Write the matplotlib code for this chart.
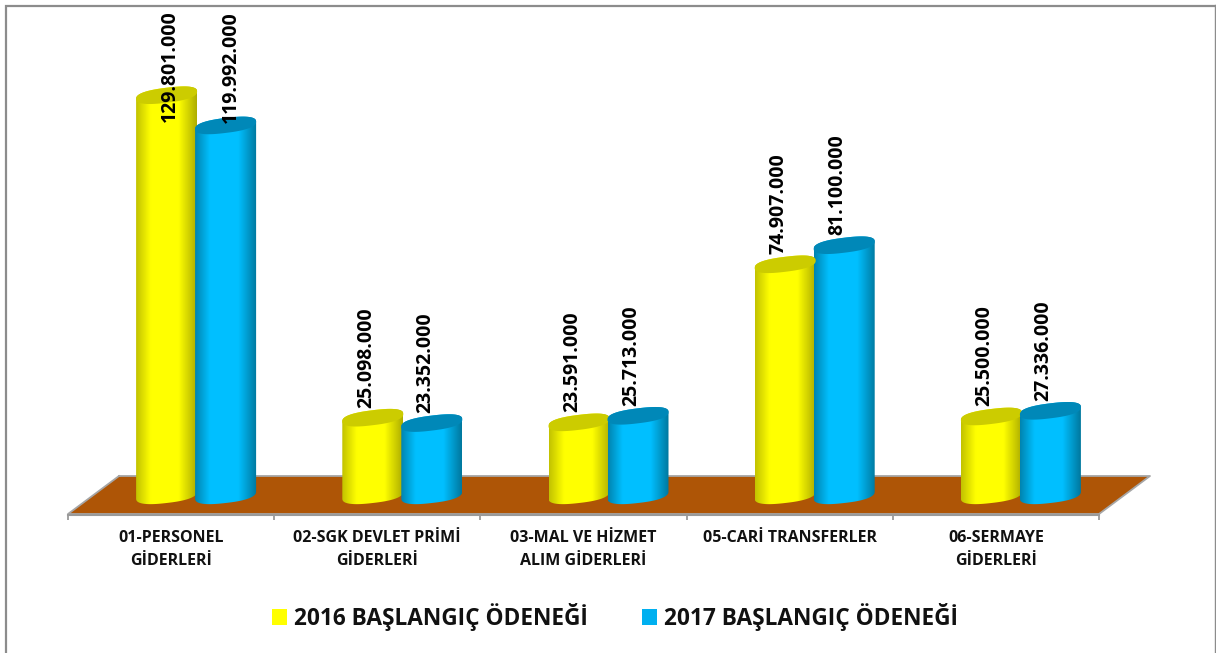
import numpy as np
import matplotlib
matplotlib.use("Agg")
import matplotlib.pyplot as plt
from matplotlib.patches import Patch, PathPatch, Polygon
from matplotlib.path import Path

categories = ["01-PERSONEL\nGİDERLERİ", "02-SGK DEVLET PRİMİ\nGİDERLERİ", "03-MAL VE HİZMET\nALIM GİDERLERİ",
              "05-CARİ TRANSFERLER", "06-SERMAYE\nGİDERLERİ"]
values_2016 = [129801000, 25098000, 23591000, 74907000, 25500000]
values_2017 = [119992000, 23352000, 25713000, 81100000, 27336000]
series_names = ["2016 BAŞLANGIÇ ÖDENEĞİ", "2017 BAŞLANGIÇ ÖDENEĞİ"]

W, H = 1216, 653
CAT_W = 206.2       # px per category
X0 = 68             # px of first tick
Y0 = 495            # px of value zero
VP = 1 / 3.08e-6    # value per px

plt.rcParams['font.family'] = ['Open Sans', 'DejaVu Sans']

fig = plt.figure(figsize=(W / 100, H / 100), dpi=100, facecolor='white')

# pixel layer for frame and floor
bg = fig.add_axes([0, 0, 1, 1], zorder=0)
bg.set_xlim(0, W)
bg.set_ylim(H, 0)
bg.axis('off')
bg.plot([5.5, 5.5, 1215], [H, 5.5, 5.5], color='#8c8c8c', lw=1.6, solid_joinstyle='miter')
bg.plot([1215, 1215], [5, H], color='#8c8c8c', lw=1.0)
bg.add_patch(Polygon([(68, 514), (119, 476), (1150, 476), (1099, 514)], closed=True,
                     facecolor='#AE5506', edgecolor='none'))
bg.plot([119, 1150, 1099, 68, 119], [476, 476, 514, 514, 476], color='#a6a6a6', lw=1.3)
bg.plot([68, 1099], [515, 515], color='#9a9a9a', lw=1.5)

# data layer
ax = fig.add_axes([0, 0, 1, 1], zorder=1)
ax.patch.set_alpha(0)
for s in ax.spines.values():
    s.set_visible(False)
ax.xaxis.set_ticks_position('none')
ax.yaxis.set_visible(False)

# category ticks sit on the floor's front edge
tick_xs = np.arange(len(categories) + 1)
ax.vlines(tick_xs, (Y0 - 515) * VP, (Y0 - 520) * VP, color='#9a9a9a', lw=1.3)
ax.set_xticks([])
for i, c in enumerate(categories):
    ax.text(i + 0.5, (Y0 - 530) * VP, c, ha='center', va='top', fontsize=11.5,
            fontweight='bold', color='#111111', linespacing=1.55)


def blunt(a):
    # slightly squarer than a true ellipse, the 3D caps have round ends
    return np.sign(a) * np.abs(a) ** 0.8


def cylinder(x_left, val, colors):
    dx = 30.5 / CAT_W
    cx = x_left + dx

    t = np.linspace(0, 2 * np.pi, 120)
    top_x = cx + dx * blunt(np.cos(t))
    top_y = val + (3.7 * blunt(np.cos(t)) + 7.5 * blunt(np.sin(t))) * VP

    # outline: lower half of the base and upper half of the top
    lower = np.linspace(np.pi, 2 * np.pi, 60)
    upper = np.linspace(0, np.pi, 60)
    xs = np.r_[cx + dx * blunt(np.cos(lower)), cx + dx * blunt(np.cos(upper))]
    ys = np.r_[(3.5 * blunt(np.cos(lower)) + 8.0 * blunt(np.sin(lower))) * VP,
               val + (3.7 * blunt(np.cos(upper)) + 7.5 * blunt(np.sin(upper))) * VP]
    body = PathPatch(Path(np.c_[xs, ys]), facecolor='none', edgecolor='none')
    ax.add_patch(body)

    pos = [0.0, 0.24, 0.70, 1.0]
    shade = np.linspace(0, 1, 128)
    rgb = np.array([np.interp(shade, pos, [c[k] for c in colors['body']]) for k in range(3)]).T
    img = ax.imshow(rgb[np.newaxis, :, :], extent=[cx - dx, cx + dx, -12 * VP, val + 14 * VP],
                    aspect='auto', interpolation='bilinear', zorder=3)
    img.set_clip_path(body)
    ax.add_patch(Polygon(np.c_[top_x, top_y], closed=True, facecolor=colors['top'], edgecolor='none', zorder=4))


yellow = {'body': [(0.76, 0.76, 0.0), (1, 1, 0), (1, 1, 0), (0.68, 0.68, 0.0)], 'top': '#CCCC00'}
blue = {'body': [(0.0, 0.52, 0.69), (0.0, 0.75, 1.0), (0.0, 0.75, 1.0), (0.0, 0.47, 0.62)], 'top': '#0088B8'}

BAR_W = 61 / CAT_W
SHIFT = 0.5 + 26 / CAT_W

# first two labels were pushed around to stay inside the chart
label_nudge = {(0, 0): (10, 37), (0, 1): (12, 0)}

for k, (vals, style) in enumerate([(values_2016, yellow), (values_2017, blue)]):
    for i, v in enumerate(vals):
        left = i + SHIFT - BAR_W + k * (59 / CAT_W)
        cylinder(left, v, style)
        nudge_x, nudge_y = label_nudge.get((i, k), (0, 0))
        lx = left + BAR_W / 2 + (-7 + nudge_x) / CAT_W
        ly = v + (10 - nudge_y) * VP
        if (i, k) == (0, 1):
            ly = (Y0 - 123) * VP
        lab = f"{v:,}".replace(",", ".")
        ax.text(lx, ly, lab, rotation=90, ha='center', va='bottom', fontsize=14,
                fontweight='bold', color='black', zorder=6)

ax.set_xlim(-X0 / CAT_W, (W - X0) / CAT_W)
ax.set_ylim((Y0 - H) * VP, Y0 * VP)

handles = [Patch(facecolor='#FFFF00', label=series_names[0]), Patch(facecolor='#00B0F0', label=series_names[1])]
fig.legend(handles=handles, loc='center', bbox_to_anchor=(615 / W, 1 - 617 / H), ncol=2, frameon=False,
           prop={'family': 'Open Sans', 'weight': 'bold', 'size': 16.3}, handlelength=0.66, handleheight=0.66,
           handletextpad=0.31, columnspacing=2.43, labelcolor='#111111')

fig.savefig("out.png", dpi=100)
plt.close(fig)
